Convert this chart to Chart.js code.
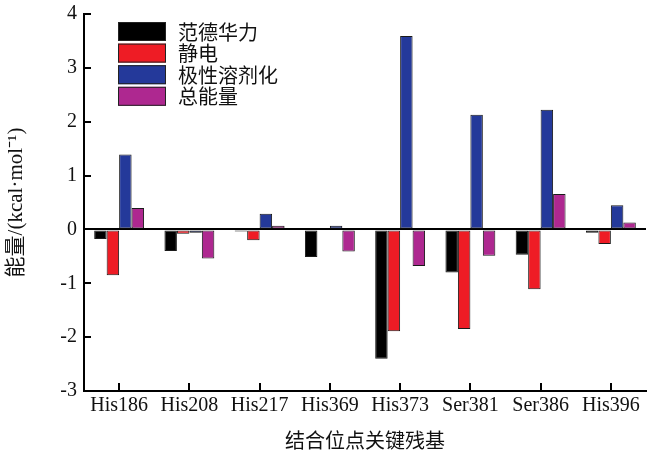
<!DOCTYPE html>
<html>
<head>
<meta charset="utf-8">
<script src="https://cdn.jsdelivr.net/npm/chart.js@4/dist/chart.umd.min.js"></script>
<style>
  html, body { margin: 0; padding: 0; background: #fff; }
  #wrap { width: 672px; height: 456px; }
</style>
</head>
<body>
<div id="wrap"><canvas id="c" width="672" height="456"></canvas></div>
<script>
// Binding-site residues and per-residue energy terms (kcal/mol)
const categories = ['His186', 'His208', 'His217', 'His369', 'His373', 'Ser381', 'Ser386', 'His396'];
const vanDerWaals = [-0.18, -0.40, -0.04, -0.51, -2.40, -0.80, -0.47, -0.06];
const electrostatic = [-0.85, -0.08, -0.20, 0.00, -1.89, -1.85, -1.11, -0.27];
const polarSolvation = [1.39, -0.06, 0.29, 0.07, 3.59, 2.13, 2.22, 0.45];
const totalEnergy = [0.40, -0.54, 0.07, -0.41, -0.68, -0.49, 0.66, 0.13];
const seriesNames = ['范德华力', '静电', '极性溶剂化', '总能量'];
const yTicks = [-3, -2, -1, 0, 1, 2, 3, 4];

const colors = ['#000000', '#EE1C25', '#24399A', '#AE2890'];
const FONT = '"Liberation Serif", "Times New Roman", Times, "Noto Sans CJK SC", serif';
const CJK = '"Noto Sans CJK SC", sans-serif';

// Inward tick marks on both axes, drawn from the scales' own pixel mapping
const inwardTicks = {
  id: 'inwardTicks',
  afterDraw(chart) {
    const { ctx, chartArea, scales } = chart;
    ctx.save();
    ctx.strokeStyle = '#000';
    ctx.lineWidth = 2;
    scales.y.ticks.forEach(t => {
      const y = Math.round(scales.y.getPixelForValue(t.value));
      ctx.beginPath();
      ctx.moveTo(chartArea.left, y);
      ctx.lineTo(chartArea.left + 7, y);
      ctx.stroke();
    });
    categories.forEach((c, i) => {
      const x = Math.round(scales.x.getPixelForValue(i));
      ctx.beginPath();
      ctx.moveTo(x, chartArea.bottom);
      ctx.lineTo(x, chartArea.bottom - 8);
      ctx.stroke();
    });
    ctx.restore();
  }
};

// Legend block inside the plot, built from the datasets
const innerLegend = {
  id: 'innerLegend',
  afterDraw(chart) {
    const { ctx, chartArea } = chart;
    const x0 = chartArea.left + 34;
    const y0 = chartArea.top + 8;
    const row = 21.6;
    ctx.save();
    ctx.font = '20px ' + CJK;
    ctx.textBaseline = 'middle';
    chart.data.datasets.forEach((ds, i) => {
      const y = y0 + i * row;
      ctx.fillStyle = ds.backgroundColor;
      ctx.fillRect(x0, y, 48, 19);
      ctx.strokeStyle = '#222';
      ctx.lineWidth = 1;
      ctx.strokeRect(x0 + 0.5, y + 0.5, 47, 18);
      ctx.fillStyle = '#111';
      ctx.fillText(ds.label, x0 + 60, y + 10);
    });
    ctx.restore();
  }
};

const datasets = [vanDerWaals, electrostatic, polarSolvation, totalEnergy].map((d, i) => ({
  label: seriesNames[i],
  data: d,
  backgroundColor: colors[i],
  borderColor: '#1a1a1a',
  borderWidth: 1,
  borderSkipped: false,
  categoryPercentage: 0.71,
  barPercentage: 1.0
}));

new Chart(document.getElementById('c'), {
  type: 'bar',
  data: { labels: categories, datasets },
  plugins: [inwardTicks, innerLegend],
  options: {
    responsive: false,
    animation: false,
    layout: { padding: { left: 0, right: 26, top: 14, bottom: 0 } },
    plugins: { legend: { display: false }, tooltip: { enabled: false } },
    scales: {
      x: {
        grid: { display: false, drawTicks: false },
        border: { display: true, color: '#000', width: 2 },
        ticks: { color: '#111', font: { family: FONT, size: 20 }, padding: 3, maxRotation: 0, autoSkip: false },
        title: { display: true, text: '结合位点关键残基', color: '#111', font: { family: CJK, size: 20 }, padding: { top: 4, bottom: 4 } },
        afterFit(scale) { scale.height = 65; }
      },
      y: {
        min: -3, max: 4,
        afterBuildTicks(scale) { scale.ticks = yTicks.map(v => ({ value: v })); },
        grid: {
          drawTicks: false,
          color: c => (c.tick && c.tick.value === 0 ? '#000' : 'rgba(0,0,0,0)'),
          lineWidth: c => (c.tick && c.tick.value === 0 ? 2 : 0)
        },
        border: { display: true, color: '#000', width: 2 },
        ticks: { color: '#111', font: { family: FONT, size: 20 }, padding: 7 },
        title: { display: true, text: '能量/(kcal·mol⁻¹)', color: '#111', font: { family: FONT, size: 21 }, padding: { top: 4, bottom: 0 } },
        afterFit(scale) {
          scale.width = 84;
          scale.paddingTop = 0;
          scale.paddingBottom = 0;
        }
      }
    }
  }
});
</script>
</body>
</html>
